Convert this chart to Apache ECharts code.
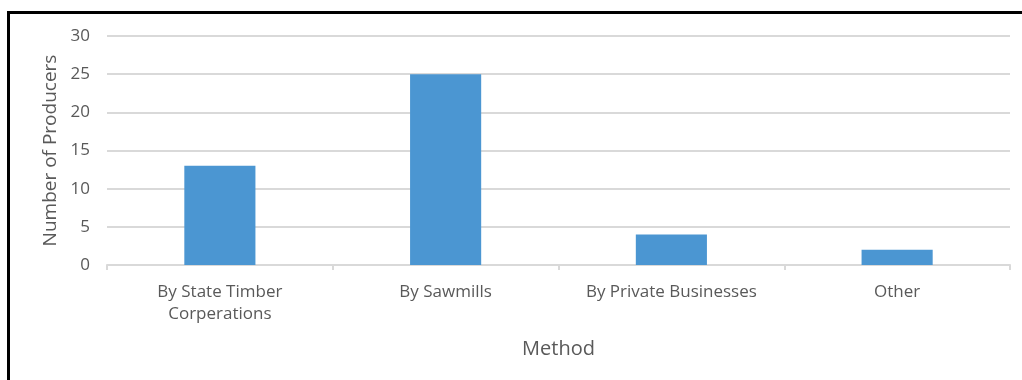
<!DOCTYPE html>
<html>
<head>
<meta charset="utf-8">
<script src="https://cdn.jsdelivr.net/npm/echarts@6/dist/echarts.min.js"></script>
<style>
  html, body { margin: 0; padding: 0; background: #ffffff; }
  #chart { width: 1022px; height: 380px; }
</style>
</head>
<body>
<div id="chart"></div>
<script>
// Producers grouped by selling method
const categories = ['By State Timber\nCorperations', 'By Sawmills', 'By Private Businesses', 'Other'];
const producers = [13, 25, 4, 2];
const yTicks = { min: 0, max: 30, interval: 5 };

const textColor = '#595959';
const fontFamily = '"Open Sans", "Noto Sans", sans-serif';

const chart = echarts.init(document.getElementById('chart'));
chart.setOption({
  backgroundColor: '#ffffff',
  animation: false,
  grid: { left: 107, right: 12, top: 36, bottom: 115, containLabel: false },
  graphic: [
    {
      type: 'polyline',
      shape: { points: [[8.5, 380], [8.5, 12.5], [1022, 12.5]] },
      style: { stroke: '#000000', lineWidth: 3, fill: null }
    }
  ],
  xAxis: {
    type: 'category',
    data: categories,
    name: 'Method',
    nameLocation: 'middle',
    nameGap: 74,
    nameTextStyle: { color: textColor, fontSize: 20, fontFamily: fontFamily },
    axisLine: { lineStyle: { color: '#d9d9d9', width: 2 } },
    axisTick: { show: true, length: 5, lineStyle: { color: '#d9d9d9', width: 2 } },
    axisLabel: {
      color: textColor, fontSize: 17, fontFamily: fontFamily,
      margin: 16, lineHeight: 22, interval: 0
    }
  },
  yAxis: {
    type: 'value',
    min: yTicks.min,
    max: yTicks.max,
    interval: yTicks.interval,
    name: 'Number of Producers',
    nameLocation: 'middle',
    nameGap: 47,
    nameRotate: 90,
    nameTextStyle: { color: textColor, fontSize: 19, fontFamily: fontFamily },
    axisLine: { show: false },
    axisTick: { show: false },
    splitLine: { lineStyle: { color: '#d9d9d9', width: 2 } },
    axisLabel: { color: textColor, fontSize: 17, fontFamily: fontFamily, margin: 17 }
  },
  series: [
    {
      type: 'bar',
      data: producers,
      barWidth: '31.5%',
      itemStyle: { color: '#4b96d2' }
    }
  ]
});
</script>
</body>
</html>
